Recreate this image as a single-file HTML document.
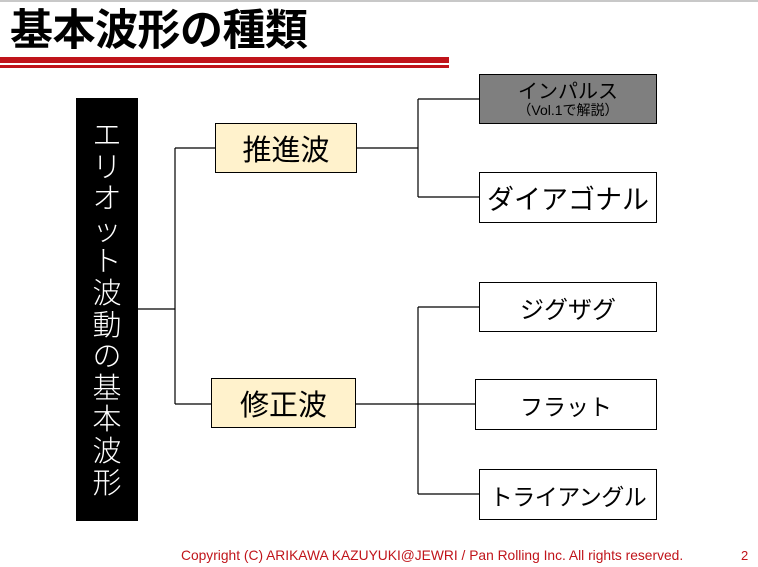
<!DOCTYPE html>
<html><head><meta charset="utf-8"><style>
body{margin:0;width:758px;height:567px;position:relative;background:#fff;overflow:hidden;font-family:"Liberation Sans","Noto Sans CJK JP",sans-serif;}
.a{position:absolute;box-sizing:border-box;}
.box{position:absolute;box-sizing:border-box;border:1px solid #000;display:flex;align-items:center;justify-content:center;color:#000;white-space:nowrap;}
.v div{height:31.6px;line-height:31.6px;overflow:visible;}
</style></head><body>
<div class="a" style="left:0;top:0;width:758px;height:2px;background:#c8c8c8"></div>
<div class="a" style="left:10px;top:2px;font-size:43px;font-weight:bold;line-height:50px;letter-spacing:-0.5px;font-family:'Noto Sans CJK JP',sans-serif;white-space:nowrap">基本波形の種類</div>
<div class="a" style="left:0;top:57px;width:449px;height:6px;background:#c0141a"></div>
<div class="a" style="left:0;top:65px;width:449px;height:3px;background:#c0141a"></div>
<svg class="a" style="left:0;top:0" width="758" height="567">
<g stroke="#000" stroke-width="1.2" fill="none">
<path d="M138 309H175M175 148V404M175 148H215M175 404H211"/>
<path d="M357 148H418M418 99V197M418 99H479M418 197H479"/>
<path d="M355 404H418M418 307V494M418 307H479M418 494H479M418 404H475"/>
</g></svg>
<div class="a v" style="left:76px;top:98px;width:62px;height:423px;background:#000;color:#fff;font-size:29px;text-align:center;padding-top:20px;font-family:'Noto Sans CJK JP',sans-serif;font-weight:300"><div>エ</div><div>リ</div><div>オ</div><div>ッ</div><div>ト</div><div>波</div><div>動</div><div>の</div><div>基</div><div>本</div><div>波</div><div>形</div></div>
<div class="box" style="left:215px;top:123px;width:142px;height:50px;background:#fff2cc;font-size:29px">推進波</div>
<div class="box" style="left:211px;top:378px;width:145px;height:50px;background:#fff2cc;font-size:29px">修正波</div>
<div class="box" style="left:479px;top:74px;width:178px;height:50px;background:#7f7f7f;flex-direction:column;line-height:1">
<div style="font-size:20px">インパルス</div><div style="font-size:14px;margin-top:1px">（Vol.1で解説）</div></div>
<div class="box" style="left:479px;top:172px;width:178px;height:51px;font-size:27px">ダイアゴナル</div>
<div class="box" style="left:479px;top:282px;width:178px;height:50px;font-size:24px">ジグザグ</div>
<div class="box" style="left:475px;top:379px;width:182px;height:51px;font-size:23px">フラット</div>
<div class="box" style="left:479px;top:469px;width:178px;height:51px;font-size:23px;letter-spacing:-0.5px">トライアングル</div>
<div class="a" style="left:181px;top:548px;font-size:13.8px;color:#c0141a;white-space:nowrap">Copyright (C) ARIKAWA KAZUYUKI@JEWRI / Pan Rolling Inc. All rights reserved.</div>
<div class="a" style="left:741px;top:548px;font-size:13px;color:#c0141a">2</div>
</body></html>
